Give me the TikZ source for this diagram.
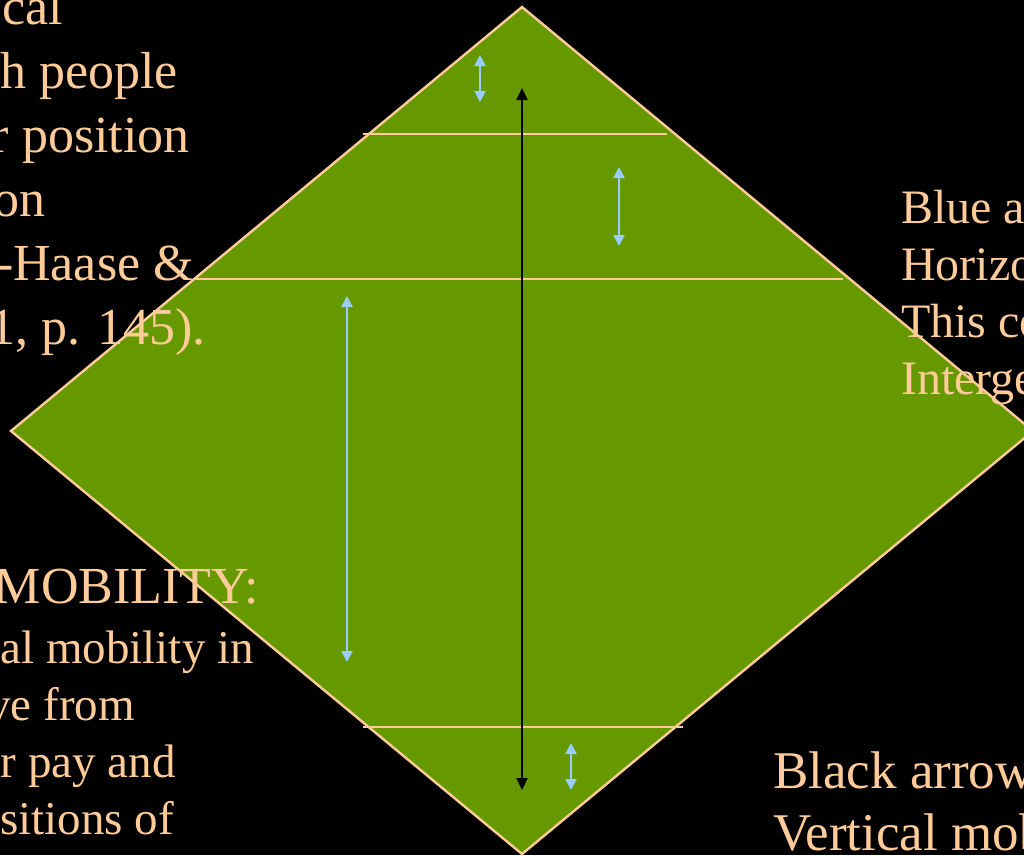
\documentclass[tikz,border=0pt]{standalone}
\usepackage{fontspec}
\setmainfont{Liberation Serif}
\usetikzlibrary{arrows.meta}
\definecolor{peach}{HTML}{FFCC99}
\definecolor{leaf}{HTML}{669900}
\definecolor{sky}{HTML}{99CCFF}

\begin{document}
\begin{tikzpicture}[
  x=1pt, y=-1pt,
  edge/.style={draw=peach, line width=2.4pt},
  barr/.style={sky, line width=2.4pt,
               {Triangle[length=11pt,width=11pt]}-{Triangle[length=11pt,width=11pt]}},
  karr/.style={black, line width=2.2pt,
               {Triangle[length=12pt,width=11pt]}-{Triangle[length=12pt,width=11pt]}},
  txt/.style={text=peach, inner sep=0pt},
  bigtxt/.style={txt, font=\fontsize{52}{64}\selectfont},
  midtxt/.style={txt, font=\fontsize{48}{57}\selectfont},
]
  \useasboundingbox (0,0) rectangle (1024,855);
  \fill[black] (0,0) rectangle (1024,855);
  \clip (0,0) rectangle (1024,855);

  % Diamond
  \filldraw[fill=leaf, edge] (522,7) -- (1033,431) -- (522,854) -- (11,431) -- cycle;

  % Level lines
  \foreach \n/\y/\a/\b in {l1/134/363/667, l2/279/193/843, l3/727/363/683} {
    \coordinate (\n w) at (\a,\y);
    \coordinate (\n e) at (\b,\y);
    \draw[edge] (\n w) -- (\n e);
  }

  % Blue arrows
  \foreach \n/\x/\a/\b in {b1/480/55/102, b2/619/167/246, b3/347/296/662, b4/571/743/790} {
    \coordinate (\n t) at (\x,\a);
    \coordinate (\n b) at (\x,\b);
    \draw[barr] (\n t) -- (\n b);
  }

  % Black arrow
  \coordinate (kt) at (522,88);
  \coordinate (kb) at (522,790);
  \draw[karr] (kt) -- (kb);

  % Left notes, cut by the edge
  \foreach \s/\x/\y [count=\i] in {cal/63/24, {h people}/178/88, {r position}/190/152,
                                   on/46/216, {-Haase \&}/194/280, {1, p. 145).}/206/344}
    \node[bigtxt, anchor=base east] (tl\i) at (\x,\y) {\s};

  \node[bigtxt, anchor=base east] (mob) at (259,603) {MOBILITY:};
  \foreach \s/\x/\y [count=\i] in {{al mobility in}/254/663, {ve from}/135/720,
                                   {r pay and}/176/777, {sitions of}/174/834}
    \node[txt, font=\fontsize{47}{57}\selectfont, anchor=base east] (bl\i) at (\x,\y) {\s};

  % Right notes
  \foreach \s [count=\i] in {Blue a, Horizo, This co, Interge}
    \node[midtxt, anchor=base west] (rt\i) at (901,166+57*\i) {\s};

  \node[txt, font=\fontsize{53}{62}\selectfont, anchor=base west] (br1) at (773,788) {Black arrow};
  \node[txt, font=\fontsize{53}{62}\selectfont, anchor=base west] (br2) at (773,850) {Vertical mob};
\end{tikzpicture}
\end{document}
